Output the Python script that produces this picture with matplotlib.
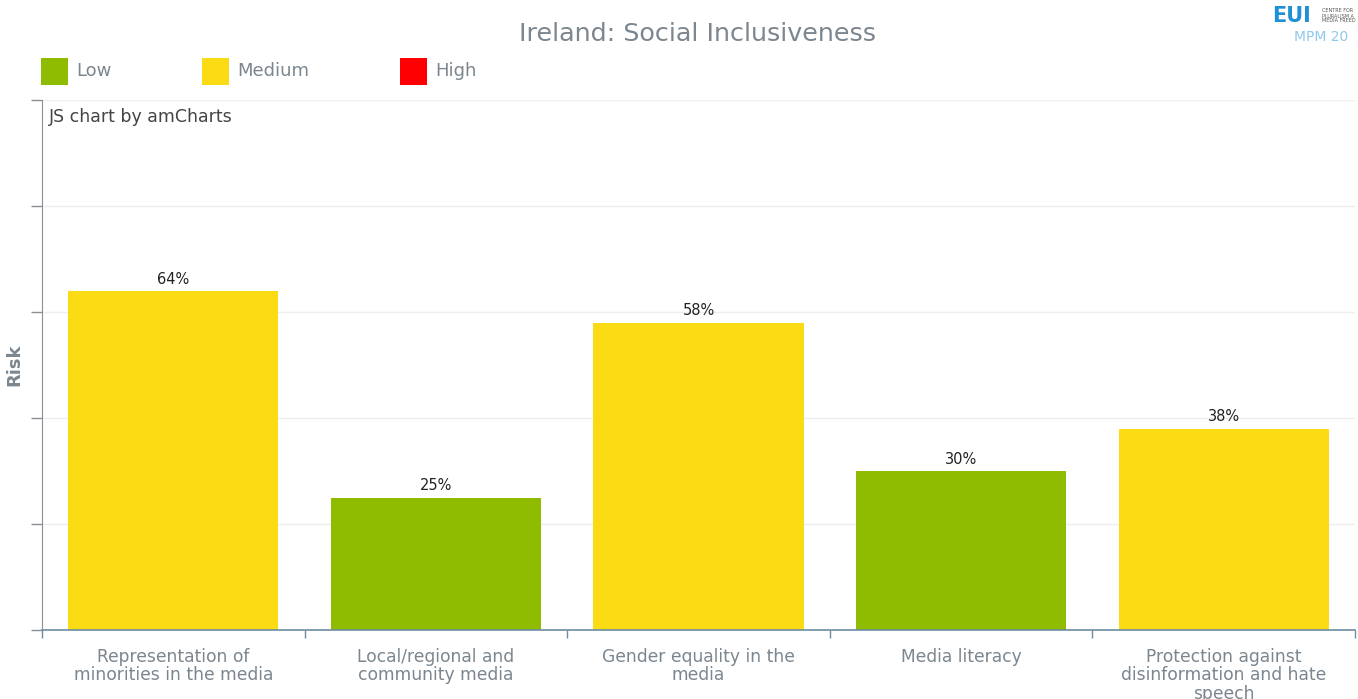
import matplotlib.pyplot as plt
from matplotlib.patches import Rectangle

# ── Data ─────────────────────────────────────────────
categories = [
    "Representation of\nminorities in the media",
    "Local/regional and\ncommunity media",
    "Gender equality in the\nmedia",
    "Media literacy",
    "Protection against\ndisinformation and hate\nspeech",
]
risk = [64, 25, 58, 30, 38]
levels = ["Medium", "Low", "Medium", "Low", "Medium"]

legend_names = ["Low", "Medium", "High"]
level_colors = {"Low": "#8fbb00", "Medium": "#fadb14", "High": "#ff0000"}

TEXT = "#7b868f"
AXIS_BLUE = "#6c8ca3"

plt.rcParams["font.family"] = ["DejaVu Sans"]

W, H = 1358, 699
fig = plt.figure(figsize=(13.58, 6.99), dpi=100)
ax = fig.add_axes([42 / W, 69 / H, 1313 / W, 530 / H])

x = [i + 0.5 for i in range(len(categories))]
bar_colors = [level_colors[l] for l in levels]
bars = ax.bar(x, risk, width=0.8, color=bar_colors, edgecolor="none", zorder=2)

for b, v in zip(bars, risk):
    ax.annotate(f"{v}%", (b.get_x() + b.get_width() / 2, v),
                xytext=(0, 3), textcoords="offset points",
                ha="center", va="bottom", fontsize=10.5, color="#222222")

ax.set_xlim(0, len(categories))
ax.set_ylim(0, 100)

# gridlines + ticks
ax.set_yticks(range(0, 101, 20))
ax.set_yticklabels([])
ax.yaxis.grid(True, color="#eeeeee", lw=1, zorder=0)
ax.tick_params(axis="y", direction="out", length=8, color="#8a8f94", width=1)

ax.set_xticks(range(0, len(categories) + 1))
ax.set_xticklabels([])
ax.tick_params(axis="x", direction="out", length=6, color=AXIS_BLUE, width=1)
ax.set_xticks(x, minor=True)
ax.set_xticklabels(categories, minor=True, fontsize=12.3, color=TEXT,
                   linespacing=1.02, va="top")
ax.tick_params(axis="x", which="minor", length=0, pad=13)

for s in ["top", "right"]:
    ax.spines[s].set_visible(False)
ax.spines["left"].set_color("#8a8f94")
ax.spines["bottom"].set_color(AXIS_BLUE)
ax.spines["bottom"].set_linewidth(1.2)

ax.set_ylabel("Risk", fontsize=13, fontweight="bold", color=TEXT)
ax.yaxis.set_label_coords(-19 / 1313, 0.5)

ax.text(0.005, 0.985, "JS chart by amCharts", transform=ax.transAxes,
        fontsize=12.5, color="#444444", va="top", ha="left")

# title
fig.text(698 / W, 1 - 34 / H, "Ireland: Social Inclusiveness",
         ha="center", va="center", fontsize=18.3, color=TEXT)

# legend
for name, sx in zip(legend_names, [41, 202, 400]):
    fig.patches.append(Rectangle((sx / W, 1 - 85 / H), 27 / W, 27 / H,
                                 transform=fig.transFigure,
                                 facecolor=level_colors[name], edgecolor="none"))
    fig.text((sx + 35) / W, 1 - 71.5 / H, name, fontsize=13, color=TEXT,
             va="center", ha="left")

# logo (approximation)
fig.text(1272 / W, 1 - 16 / H, "EUI", fontsize=15, fontweight="bold",
         color="#1f8fd6", va="center", ha="left")
fig.text(1322 / W, 1 - 16 / H, "CENTRE FOR\nPLURALISM A\nMEDIA FREED", fontsize=3.5,
         color="#555555", va="center", ha="left", linespacing=1.0)
fig.text(1294 / W, 1 - 37 / H, "MPM 20", fontsize=10,
         color="#8fc8ee", va="center", ha="left")

fig.savefig("out.png", dpi=100)
